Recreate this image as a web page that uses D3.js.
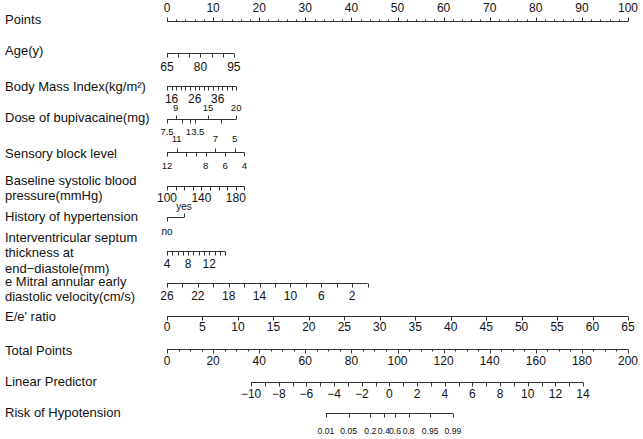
<!DOCTYPE html>
<html>
<head>
<meta charset="utf-8">
<script src="https://cdn.jsdelivr.net/npm/d3@7"></script>
<style>
  body { margin: 0; background: #fff; }
  text { font-family: "Liberation Sans", Arial, sans-serif; fill: #111; }
</style>
</head>
<body>
<div id="chart"></div>
<script>
// nomogram - values

// points scale (top row)
var pointsTicks = [0,2,4,6,8,10,12,14,16,18,20,22,24,26,28,30,32,34,36,38,40,42,44,46,48,50,
  52,54,56,58,60,62,64,66,68,70,72,74,76,78,80,82,84,86,88,90,92,94,96,98,100];
var pointsLabels = [0,10,20,30,40,50,60,70,80,90,100];

// Age(y)
var ageTicks = [65,70,75,80,85,90,95];
var ageLabels = [65,80,95];
var ageRange = [65,95], agePoints = [0,14.5];

// BMI
var bmiTicks = [14,16,18,20,22,24,26,28,30,32,34,36,38,40,42,44];
var bmiLabels = [16,26,36];
var bmiRange = [14,44], bmiPoints = [0,15.0];

// Dose of bupivacaine (non linear)
var doseTicks = [7.5,9,10.5,12,13.5,15,17.5,20];
var dosePoints = [0,1.9,3.2,5.0,6.1,8.9,11.8,15.0];
var doseLabelsUp = [9,15,20];
var doseLabelsDown = [7.5,13.5];

// Sensory block level
var sensTicks = [12,11,10,9,8,7,6,5,4];
var sensLabelsUp = [11,7,5];
var sensLabelsDown = [12,8,6,4];
var sensRange = [12,4], sensPoints = [0,16.8];

// Baseline SBP
var sbpTicks = [100,110,120,130,140,150,160,170,180,190];
var sbpLabels = [100,140,180];
var sbpRange = [100,190], sbpPoints = [0,16.8];

// History of hypertension
var htnLevels = ["no","yes"];
var htnPoints = [0,3.7];

// Interventricular septum thickness
var ivsTicks = [4,5,6,7,8,9,10,11,12,13,14,15];
var ivsLabels = [4,8,12];
var ivsRange = [4,15], ivsPoints = [0,12.6];

// e mitral annular early diastolic velocity
var emTicks = [26,24,22,20,18,16,14,12,10,8,6,4,2,0];
var emLabels = [26,22,18,14,10,6,2];
var emRange = [26,0], emPoints = [0,43.5];

// E/e' ratio
var eeTicks = [0,5,10,15,20,25,30,35,40,45,50,55,60,65];
var eeRange = [0,65], eePoints = [0,100];

// Total points
var totalTicks = [0,5,10,15,20,25,30,35,40,45,50,55,60,65,70,75,80,85,90,95,100,
  105,110,115,120,125,130,135,140,145,150,155,160,165,170,175,180,185,190,195,200];
var totalLabels = [0,20,40,60,80,100,120,140,160,180,200];

// Linear predictor
var lpTicks = [-10,-9,-8,-7,-6,-5,-4,-3,-2,-1,0,1,2,3,4,5,6,7,8,9,10,11,12,13,14];
var lpLabels = [-10,-8,-6,-4,-2,0,2,4,6,8,10,12,14];
var lpRange = [-10,14], lpTotal = [36.5,180.5];

// Risk of hypotension
var riskTicks = [0.01,0.05,0.2,0.4,0.6,0.8,0.95,0.99];

var svgwdth = 643;
var svghght = 439;

var svg = d3.select("#chart")
  .append("svg")
  .attr("width", svgwdth)
  .attr("height", svghght);

var xPts = d3.scaleLinear().domain([0,100]).range([167,628]);
var xTot = d3.scaleLinear().domain([0,200]).range([167,628]);
var lpToTot = d3.scaleLinear().domain(lpRange).range(lpTotal);

// row titles
var rowTitles = [
  {y: 19, lines: ["Points"]},
  {y: 50, lines: ["Age(y)"]},
  {y: 86, lines: ["Body Mass Index(kg/m\u00b2)"]},
  {y: 117, lines: ["Dose of bupivacaine(mg)"]},
  {y: 153, lines: ["Sensory block level"]},
  {y: 180, lines: ["Baseline systolic blood", "pressure(mmHg)"]},
  {y: 216, lines: ["History of hypertension"]},
  {y: 237, lines: ["Interventricular septum", "thickness at", "end\u2212diastole(mm)"]},
  {y: 281, lines: ["e Mitral annular early", "diastolic velocity(cm/s)"]},
  {y: 316, lines: ["E/e' ratio"]},
  {y: 350, lines: ["Total Points"]},
  {y: 381, lines: ["Linear Predictor"]},
  {y: 412, lines: ["Risk of Hypotension"]}
];

rowTitles.forEach(function(r){
  var t = svg.append("text")
    .attr("x", 5)
    .attr("y", r.y)
    .style("font-size", "13px");
  r.lines.forEach(function(l, i){
    t.append("tspan").attr("x", 5).attr("dy", i === 0 ? "0.35em" : "1.2em").text(l);
  });
});

// generic axis drawer
// ticks: values, xf: value -> px, labels: [{v, txt, up}]
function drawAxis(y, ticks, xf, labels, o) {
  o = o || {};
  var g = svg.append("g");
  var xs = ticks.map(xf);
  g.append("line")
    .attr("x1", d3.min(xs)).attr("x2", d3.max(xs))
    .attr("y1", y + 0.5).attr("y2", y + 0.5)
    .attr("stroke", "#333").attr("stroke-width", 1);
  var upSet = labels.filter(function(l){ return l.up; }).map(function(l){ return l.v; });
  g.selectAll(".tk").data(ticks).enter().append("line")
    .attr("x1", function(d){ return Math.round(xf(d)) + 0.5; })
    .attr("x2", function(d){ return Math.round(xf(d)) + 0.5; })
    .attr("y1", y + 0.5)
    .attr("y2", function(d){
      var len = o.major ? (o.major(d) ? 4 : 2) : 4;
      var up = o.allUp || upSet.indexOf(d) >= 0;
      return y + 0.5 + (up ? -len : len);
    })
    .attr("stroke", "#333").attr("stroke-width", 1);
  g.selectAll(".lb").data(labels).enter().append("text")
    .attr("x", function(d){ return xf(d.v); })
    .attr("y", function(d){ return y + (d.up ? -(o.offUp || 13) : (o.offDown || 13)); })
    .attr("dy", "0.35em")
    .attr("text-anchor", "middle")
    .style("font-size", (o.fs || 12) + "px")
    .text(function(d){ return d.txt; });
}

function lab(vals, up) {
  return vals.map(function(v){ return {v: v, txt: String(v).replace("-", "\u2212"), up: !!up}; });
}

function ptsScale(range, pts) {
  var s = d3.scaleLinear().domain(range).range(pts);
  return function(v){ return xPts(s(v)); };
}

// Points
drawAxis(21, pointsTicks, xPts, lab(pointsLabels, true),
  {allUp: true, major: function(d){ return d % 10 === 0; }, offUp: 13});

// Age
drawAxis(53, ageTicks, ptsScale(ageRange, agePoints), lab(ageLabels), {offDown: 14});

// BMI
drawAxis(86, bmiTicks, ptsScale(bmiRange, bmiPoints), lab(bmiLabels), {offDown: 13});

// Dose
var doseX = function(v){ return xPts(d3.scaleLinear().domain(doseTicks).range(dosePoints)(v)); };
drawAxis(119, doseTicks, doseX, lab(doseLabelsUp, true).concat(lab(doseLabelsDown)),
  {fs: 9.5, offUp: 11, offDown: 13});

// Sensory block level
drawAxis(152, sensTicks, ptsScale(sensRange, sensPoints),
  lab(sensLabelsUp, true).concat(lab(sensLabelsDown)), {fs: 9.5, offUp: 13, offDown: 14});

// Baseline SBP
drawAxis(186, sbpTicks, ptsScale(sbpRange, sbpPoints), lab(sbpLabels), {offDown: 12});

// Hypertension
var htnX = function(v){ return xPts(htnPoints[htnLevels.indexOf(v)]); };
drawAxis(217, htnLevels, htnX, [{v: "yes", txt: "yes", up: true}, {v: "no", txt: "no", up: false}],
  {fs: 10, offUp: 11, offDown: 14});

// IVS
drawAxis(251, ivsTicks, ptsScale(ivsRange, ivsPoints), lab(ivsLabels), {offDown: 13});

// e mitral
drawAxis(283, emTicks, ptsScale(emRange, emPoints), lab(emLabels), {offDown: 13});

// E/e'
drawAxis(316, eeTicks, ptsScale(eeRange, eePoints), lab(eeTicks), {offDown: 11});

// Total points
drawAxis(349, totalTicks, xTot, lab(totalLabels),
  {major: function(d){ return d % 20 === 0; }, offDown: 12});

// Linear predictor
drawAxis(382, lpTicks, function(v){ return xTot(lpToTot(v)); }, lab(lpLabels), {offDown: 12});

// Risk
var riskX = function(p){ return xTot(lpToTot(Math.log(p / (1 - p)))); };
drawAxis(413, riskTicks, riskX, lab(riskTicks), {fs: 8.6, offDown: 18});
</script>
</body>
</html>
